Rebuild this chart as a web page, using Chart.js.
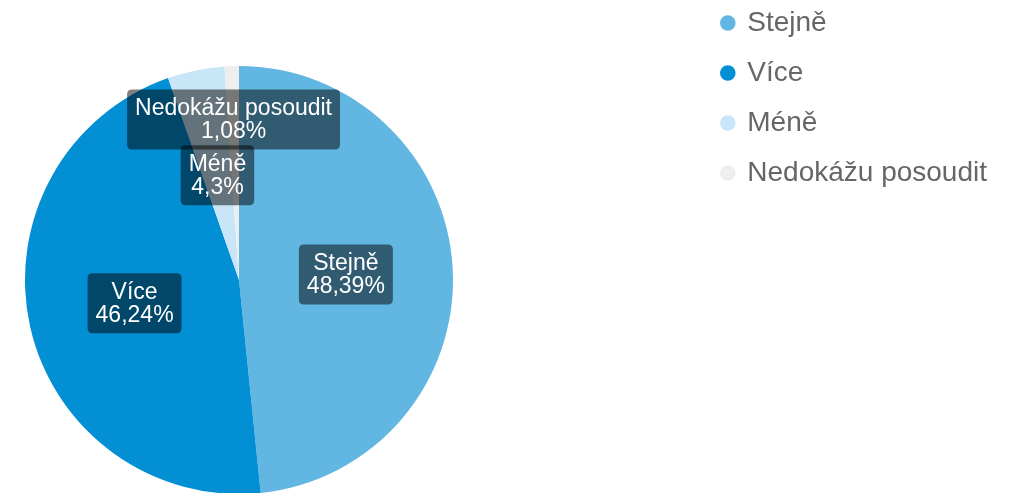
<!DOCTYPE html>
<html lang="cs">
<head>
    <meta charset="UTF-8">
    <script src="https://cdn.jsdelivr.net/npm/chart.js"></script>
    <title>Stejně / Více / Méně</title>
    <style>
        html, body { margin: 0; padding: 0; background: #fff; overflow: hidden; }
        #wrap { position: relative; width: 1021px; height: 493px; }
    </style>
</head>
<body>
<div id="wrap"><canvas id="pieChart"></canvas></div>

<script>
    // answers and their share in percent
    const categories = ['Stejně', 'Více', 'Méně', 'Nedokážu posoudit'];
    const shares = [48.39, 46.24, 4.3, 1.08];
    const sliceColors = ['#62b6e2', '#038fd4', '#c8e6f7', '#eeeeee'];

    const FONT = '"Liberation Sans", Arial, sans-serif';

    // the pie sits on the left, not centred in the free space, so place it by hand
    const pieBox = {
        id: 'pieBox',
        afterLayout(chart, args, opts) {
            const a = chart.chartArea;
            a.left = opts.cx - opts.r;
            a.right = opts.cx + opts.r;
            a.top = opts.cy - opts.r;
            a.bottom = opts.cy + opts.r;
            a.width = opts.r * 2;
            a.height = opts.r * 2;
        }
    };

    function roundBox(ctx, x, y, w, h, r) {
        ctx.beginPath();
        ctx.moveTo(x + r, y);
        ctx.lineTo(x + w - r, y);
        ctx.quadraticCurveTo(x + w, y, x + w, y + r);
        ctx.lineTo(x + w, y + h - r);
        ctx.quadraticCurveTo(x + w, y + h, x + w - r, y + h);
        ctx.lineTo(x + r, y + h);
        ctx.quadraticCurveTo(x, y + h, x, y + h - r);
        ctx.lineTo(x, y + r);
        ctx.quadraticCurveTo(x, y, x + r, y);
        ctx.closePath();
    }

    // dark boxes with name + percentage on each slice
    const sliceLabels = {
        id: 'sliceLabels',
        afterDatasetsDraw(chart, args, opts) {
            const ctx = chart.ctx;
            const meta = chart.getDatasetMeta(0);
            const values = chart.data.datasets[0].data;
            ctx.save();
            ctx.font = opts.size + 'px ' + FONT;
            ctx.textAlign = 'center';
            ctx.textBaseline = 'middle';
            meta.data.forEach((arc, i) => {
                const p = arc.getProps(['x', 'y', 'startAngle', 'endAngle', 'outerRadius'], true);
                const mid = (p.startAngle + p.endAngle) / 2;
                const rr = p.outerRadius * opts.dist[i];
                const cx = p.x + Math.cos(mid) * rr;
                const cy = p.y + Math.sin(mid) * rr;
                const lines = [chart.data.labels[i], String(values[i]).replace('.', ',') + '%'];
                const w = Math.max(...lines.map(t => ctx.measureText(t).width)) + opts.padX * 2;
                const h = lines.length * opts.lineHeight + opts.padY * 2;
                ctx.fillStyle = 'rgba(0, 0, 0, 0.5)';
                roundBox(ctx, cx - w / 2, cy - h / 2, w, h, 5);
                ctx.fill();
                ctx.fillStyle = '#ffffff';
                lines.forEach((t, k) => {
                    const ty = cy - h / 2 + opts.padY + opts.lineHeight * (k + 0.5) + 1;
                    ctx.fillText(t, cx, ty);
                });
            });
            ctx.restore();
        }
    };

    const ctx = document.getElementById('pieChart').getContext('2d');
    const pieChart = new Chart(ctx, {
        type: 'pie',
        data: {
            labels: categories,
            datasets: [{
                data: shares,
                backgroundColor: sliceColors,
                borderWidth: 0,
                hoverOffset: 0
            }]
        },
        options: {
            responsive: true,
            maintainAspectRatio: false,
            animation: false,
            radius: 214,
            layout: {
                padding: { top: -13, right: 24 }
            },
            plugins: {
                tooltip: { enabled: false },
                legend: {
                    position: 'right',
                    align: 'start',
                    labels: {
                        usePointStyle: true,
                        pointStyle: 'circle',
                        boxWidth: 11,
                        boxHeight: 11,
                        padding: 22,
                        color: '#666666',
                        font: { family: FONT, size: 28 }
                    }
                },
                pieBox: { cx: 239, cy: 280, r: 214 },
                sliceLabels: {
                    size: 23,
                    lineHeight: 23,
                    padX: 8,
                    padY: 7,
                    dist: [0.5, 0.5, 0.5, 0.75]
                }
            }
        },
        plugins: [pieBox, sliceLabels]
    });
</script>
</body>
</html>
